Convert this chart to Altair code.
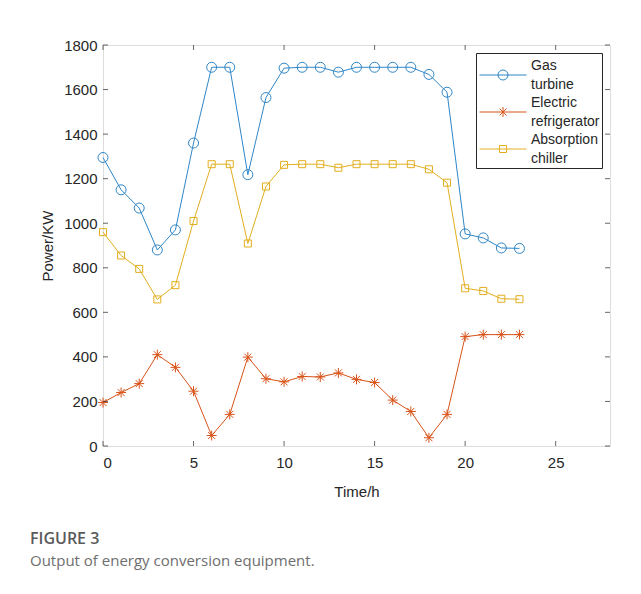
import altair as alt
import pandas as pd

# ---------------- data ----------------
hours = list(range(24))
gas_turbine = [1295, 1150, 1068, 880, 970, 1360, 1700, 1700, 1218, 1564, 1696, 1700, 1700, 1678,
               1700, 1700, 1700, 1700, 1668, 1588, 952, 934, 889, 887]
electric_refrigerator = [195, 240, 280, 410, 353, 246, 47, 142, 399, 302, 288, 312, 310, 328,
                         299, 285, 206, 155, 37, 142, 491, 500, 500, 500]
absorption_chiller = [960, 855, 795, 658, 722, 1010, 1265, 1265, 909, 1165, 1262, 1265, 1265, 1249,
                      1265, 1265, 1265, 1265, 1242, 1182, 708, 696, 661, 659]
series_names = ["Gas turbine", "Electric refrigerator", "Absorption chiller"]
series_colors = ["#2F86C6", "#D95319", "#E2AE1E"]
x_ticks = [0, 5, 10, 15, 20, 25]
y_ticks = [0, 200, 400, 600, 800, 1000, 1200, 1400, 1600, 1800]

rows = []
for name, vals in zip(series_names, [gas_turbine, electric_refrigerator, absorption_chiller]):
    for h, v in zip(hours, vals):
        rows.append({"hour": h, "power": v, "series": name})
df = pd.DataFrame(rows)
xt_df = pd.DataFrame({"xt": x_ticks})
yt_df = pd.DataFrame({"yt": y_ticks})

# ---------------- styling ----------------
W, H = 507, 401
FONT = "Liberation Sans"
TXT = "#262626"

# plot marker paths (size 100 -> 1 unit = 5 px)
marker_paths = [
    "M-1,0A1,1 0 1,0 1,0A1,1 0 1,0 -1,0Z",
    "M-1,0L1,0M0,-1L0,1M-0.7,-0.7L0.7,0.7M-0.7,0.7L0.7,-0.7",
    "M-0.7,-0.7L0.7,-0.7L0.7,0.7L-0.7,0.7Z",
]
# legend paths (size 400 -> 1 unit = 10 px): line with marker, centred between two label lines
L = 2.35
r = 0.5
a = 0.35
s = 0.35
c = 0.95  # vertical shift
legend_paths = [
    f"M-{L},{c}L{L},{c}M-{r},{c}A{r},{r} 0 1,0 {r},{c}A{r},{r} 0 1,0 -{r},{c}Z",
    f"M-{L},{c}L{L},{c}M0,{c - r}L0,{c + r}M-{a},{c - a}L{a},{c + a}M-{a},{c + a}L{a},{c - a}",
    f"M-{L},{c}L{L},{c}M-{s},{c - s}L{s},{c - s}L{s},{c + s}L-{s},{c + s}Z",
]

xs = alt.Scale(domain=[0, 28], nice=False, zero=False)
ys = alt.Scale(domain=[0, 1800], nice=False)

main_x_axis = alt.Axis(values=x_ticks, ticks=False, domain=False, grid=False, labelPadding=9,
                       format="d", labelFont=FONT, labelFontSize=15, labelColor=TXT, title="Time/h",
                       titleFont=FONT, titleFontSize=15, titleFontWeight="normal",
                       titleColor=TXT, titlePadding=14)
main_y_axis = alt.Axis(values=y_ticks, ticks=False, domain=False, grid=False, labelPadding=6,
                       format="d", labelFont=FONT, labelFontSize=15, labelColor=TXT, title="Power/KW",
                       titleFont=FONT, titleFontSize=15, titleFontWeight="normal",
                       titleColor=TXT, titlePadding=8)

base = alt.Chart(df)
X = alt.X("hour:Q", scale=xs, axis=main_x_axis)
Y = alt.Y("power:Q", scale=ys, axis=main_y_axis)

lines = base.mark_line(strokeWidth=1).encode(
    x=X, y=Y,
    color=alt.Color("series:N", scale=alt.Scale(domain=series_names, range=series_colors), legend=None),
)
points = base.mark_point(filled=False, size=100, strokeWidth=1, opacity=1).encode(
    x=X, y=Y,
    color=alt.Color("series:N", scale=alt.Scale(domain=series_names, range=series_colors), legend=None),
    shape=alt.Shape("series:N", scale=alt.Scale(domain=series_names, range=marker_paths), legend=None),
)
leg = alt.Legend(orient="none", legendX=373, legendY=8, title=None, strokeColor="#262626",
                 fillColor="white", padding=2, symbolSize=400, symbolStrokeWidth=1,
                 symbolOffset=14.5, labelOffset=17.5,
                 labelFont=FONT, labelFontSize=14, labelColor=TXT,
                 labelExpr="split(datum.label, ' ')", rowPadding=0, cornerRadius=0,
                 labelLimit=200)
legend_layer = base.transform_filter("false").mark_point(filled=False, strokeWidth=1, opacity=1).encode(
    x=X, y=Y,
    color=alt.Color("series:N", scale=alt.Scale(domain=series_names, range=series_colors), legend=leg),
    shape=alt.Shape("series:N", scale=alt.Scale(domain=series_names, range=legend_paths), legend=leg),
)

# inward tick marks on all four sides, placed by the shared scales
tick_x_bottom = alt.Chart(xt_df).mark_tick(orient="vertical", size=5, thickness=1, color=TXT, yOffset=-2.5).encode(
    x=alt.X("xt:Q", scale=xs, axis=main_x_axis), y=alt.Y(datum=0, scale=ys, axis=main_y_axis))
tick_x_top = alt.Chart(xt_df).mark_tick(orient="vertical", size=5, thickness=1, color=TXT, yOffset=2.5).encode(
    x=alt.X("xt:Q", scale=xs, axis=main_x_axis), y=alt.Y(datum=1800, scale=ys, axis=main_y_axis))
tick_y_left = alt.Chart(yt_df).mark_tick(orient="horizontal", size=5, thickness=1, color=TXT, xOffset=2.5).encode(
    y=alt.Y("yt:Q", scale=ys, axis=main_y_axis), x=alt.X(datum=0, scale=xs, axis=main_x_axis))
tick_y_right = alt.Chart(yt_df).mark_tick(orient="horizontal", size=5, thickness=1, color=TXT, xOffset=-2.5).encode(
    y=alt.Y("yt:Q", scale=ys, axis=main_y_axis), x=alt.X(datum=28, scale=xs, axis=main_x_axis))

chart = alt.layer(
    lines, points, legend_layer, tick_x_bottom, tick_x_top, tick_y_left, tick_y_right
).resolve_scale(color="independent", shape="independent").properties(
    width=W, height=H,
    autosize=alt.AutoSizeParams(type="none"),
    padding={"left": 103, "top": 45, "right": 31, "bottom": 148},
    background="white",
    title=alt.TitleParams(
        text="FIGURE 3", subtitle="Output of energy conversion equipment.",
        orient="bottom", anchor="start", frame="group", dx=-73, offset=32,
        font="Open Sans", fontSize=16, fontWeight=600, color="#5a5a5a",
        subtitleFont="Open Sans", subtitleFontSize=15, subtitleColor="#6e6e6e",
        subtitlePadding=7,
    ),
).configure_view(stroke=TXT, strokeWidth=1).configure(
    style={"guide-label": {"lineHeight": 19}}
)

chart.save("out.html", embed_options={"renderer": "svg", "actions": False})
